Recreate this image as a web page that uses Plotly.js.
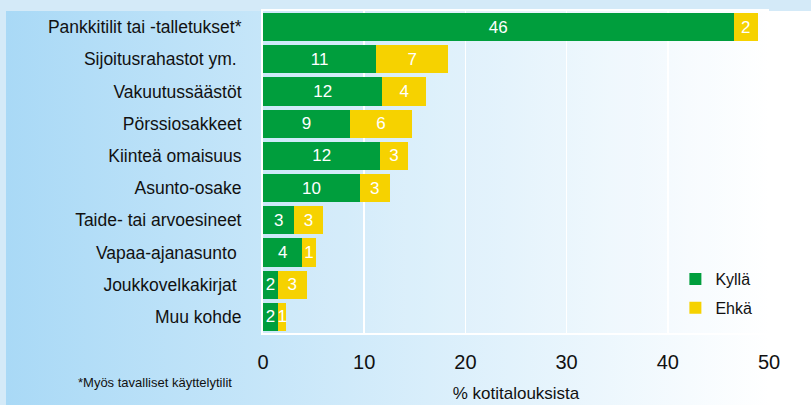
<!DOCTYPE html>
<html>
<head>
<meta charset="utf-8">
<script src="https://cdn.plot.ly/plotly-3.0.1.min.js"></script>
<style>
  html, body { margin: 0; padding: 0; }
  #frame { position: relative; width: 811px; height: 405px; background: #d4eaf8; overflow: hidden; }
  #panel { position: absolute; left: 6px; top: 11px; width: 805px; height: 394px;
           background: linear-gradient(to right, #a9d9f6 0px, #ffffff 764px, #ffffff 805px); }
  #chart { position: absolute; left: 0; top: 0; width: 811px; height: 405px; }
</style>
</head>
<body>
<div id="frame"><div id="panel"></div><div id="chart"></div></div>
<script>
// categories, top to bottom
var kohteet = ["Pankkitilit tai -talletukset*", "Sijoitusrahastot ym. ", "Vakuutussäästöt",
               "Pörssiosakkeet", "Kiinteä omaisuus", "Asunto-osake", "Taide- tai arvoesineet",
               "Vapaa-ajanasunto ", "Joukkovelkakirjat ", "Muu kohde"];
// % of households
var kylla = [46.5, 11.2, 11.8, 8.6, 11.6, 9.6, 3.1, 3.9, 1.5, 1.5];
var ehka  = [2.4, 7.1, 4.3, 6.1, 2.7, 2.9, 2.8, 1.3, 2.8, 0.8];
// rounded numbers printed in the bars
var kyllaTxt = ["46", "11", "12", "9", "12", "10", "3", "4", "2", "2"];
var ehkaTxt  = ["2", "7", "4", "6", "3", "3", "3", "1", "3", "1"];

var fnt = "'Liberation Sans', Arial, sans-serif";
var ink = '#111111';

var series = [
  {type: 'bar', orientation: 'h', name: 'Kyllä', legendgroup: 'k',
   y: kohteet, x: kylla, text: kyllaTxt,
   marker: {color: '#009e3d'},
   textposition: 'inside', insidetextanchor: 'middle', constraintext: 'none',
   textfont: {family: fnt, size: 17, color: '#ffffff'}, hoverinfo: 'skip'},
  {type: 'bar', orientation: 'h', name: 'Ehkä', legendgroup: 'e',
   y: kohteet, x: ehka, text: ehkaTxt,
   marker: {color: '#f6d200'},
   textposition: 'inside', insidetextanchor: 'middle', constraintext: 'none',
   textfont: {family: fnt, size: 17, color: '#ffffff'}, hoverinfo: 'skip'}
];

var layout = {
  width: 811, height: 405,
  margin: {l: 263, r: 42, t: 11, b: 72},
  paper_bgcolor: 'rgba(0,0,0,0)',
  plot_bgcolor: 'rgba(255,255,255,0.12)',
  barmode: 'stack', bargap: 0.125,
  font: {family: fnt, color: ink},
  xaxis: {range: [0, 50], dtick: 10, showgrid: true, gridcolor: '#ffffff', gridwidth: 1.5,
          zeroline: false, showline: true, linecolor: '#ffffff', linewidth: 2, mirror: true,
          ticks: '', ticklabelstandoff: 10,
          tickfont: {family: fnt, size: 20, color: ink},
          title: {text: '% kotitalouksista', standoff: 15, font: {family: fnt, size: 17, color: ink}}},
  yaxis: {autorange: 'reversed', showgrid: false, zeroline: false,
          showline: true, linecolor: '#ffffff', linewidth: 2,
          ticks: '', ticklabelstandoff: 16,
          tickfont: {family: fnt, size: 17.5, color: ink}},
  showlegend: true,
  legend: {x: 0.815, y: 0.22, xanchor: 'left', yanchor: 'top',
           traceorder: 'grouped', tracegroupgap: 5, bgcolor: 'rgba(0,0,0,0)',
           font: {family: fnt, size: 16, color: ink}},
  annotations: [
    {text: '*Myös tavalliset käyttelytilit', xref: 'paper', yref: 'paper',
     x: -0.37, y: -0.155, xanchor: 'left', yanchor: 'middle', showarrow: false,
     font: {family: fnt, size: 13, color: ink}}
  ]
};

Plotly.newPlot('chart', series, layout, {displayModeBar: false, staticPlot: true});
</script>
</body>
</html>
